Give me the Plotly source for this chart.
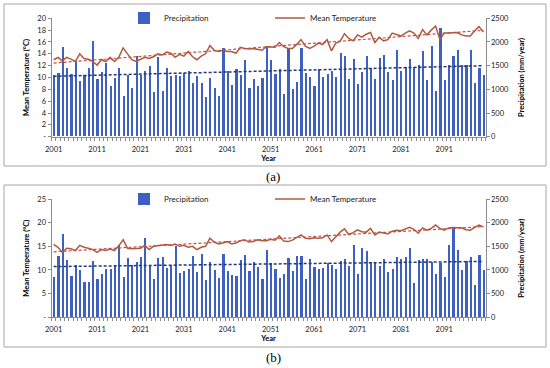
import numpy as np
import plotly.graph_objects as go

years = list(range(2001, 2101))

precip_a = [1288, 1337, 1884, 1442, 1323, 1600, 1165, 1290, 1450, 2024,
            1215, 1360, 1548, 1060, 1235, 1445, 854, 1290, 1029, 1697,
            1300, 1390, 1495, 938, 1670, 955, 1448, 1265, 1300, 1270,
            1340, 1375, 1130, 1274, 1134, 840, 1240, 1029, 852, 1875,
            1373, 1090, 1427, 1288, 1608, 1029, 1220, 1065, 1225, 1880,
            1617, 1323, 1425, 902, 1864, 1004, 1145, 1868, 1337, 1264,
            1060, 1425, 1264, 1323, 1372, 1260, 1770, 1700, 1218, 1641,
            1113, 1352, 1704, 1444, 1218, 1655, 1725, 1352, 1183, 1817,
            1373, 1465, 1634, 1465, 1500, 1796, 1197, 1915, 951, 2289,
            1197, 1514, 1704, 1831, 1514, 1514, 1817, 1127, 1444, 1303]

temp_a = [13.0, 13.4, 12.8, 13.4, 13.1, 12.7, 14.0, 13.2, 13.1, 12.7,
          12.1, 13.0, 12.7, 13.4, 12.7, 13.4, 15.0, 14.0, 13.0, 12.7,
          13.0, 13.4, 13.2, 13.5, 14.0, 13.8, 14.3, 14.1, 13.4, 13.9,
          13.6, 14.4, 13.5, 13.0, 13.6, 14.0, 15.4, 14.6, 14.4, 14.6,
          14.4, 14.4, 14.1, 15.1, 14.9, 14.8, 14.9, 14.8, 14.6, 15.2,
          15.2, 15.1, 15.9, 15.2, 14.9, 14.9, 15.6, 16.4, 15.3, 14.9,
          15.3, 15.8, 15.6, 16.4, 14.5, 15.8, 16.1, 17.4, 16.6, 16.2,
          17.2, 16.8, 17.3, 17.6, 15.9, 16.8, 16.2, 16.4, 17.5, 17.2,
          17.0, 17.5, 17.9, 17.5, 16.6, 18.1, 17.2, 18.0, 18.7, 16.4,
          17.5, 17.5, 17.5, 17.6, 17.2, 17.0, 17.0, 17.9, 18.6, 17.7]

precip_b = [845, 1300, 1750, 1212, 875, 1105, 1003, 750, 750, 1185,
            805, 920, 1018, 1018, 1105, 1530, 845, 1255, 1105, 1160,
            1278, 1680, 1115, 810, 1250, 1268, 1035, 1112, 1505, 940,
            977, 1030, 1294, 960, 1340, 786, 1178, 1008, 836, 1333,
            988, 896, 878, 1210, 1312, 988, 1170, 1058, 811, 1414,
            1153, 1012, 838, 915, 1248, 985, 1300, 1305, 811, 1234,
            1065, 1014, 1049, 1141, 1106, 1014, 1185, 1238, 1090, 1530,
            910, 1474, 1396, 1160, 1160, 1087, 1227, 956, 1019, 1273,
            1230, 1284, 1460, 716, 1210, 1238, 1230, 1167, 913, 1146,
            857, 1530, 1883, 1421, 998, 1188, 1284, 684, 1315, 998]

temp_b = [15.4, 14.8, 13.7, 14.6, 14.5, 14.1, 15.2, 14.8, 14.6, 14.3,
          13.7, 14.3, 14.1, 14.4, 14.1, 15.1, 16.4, 14.6, 14.5, 14.6,
          14.6, 15.2, 14.3, 15.0, 15.1, 15.2, 15.4, 15.2, 15.5, 15.0,
          15.2, 14.8, 15.0, 14.3, 14.8, 15.0, 16.7, 15.9, 15.5, 15.7,
          16.0, 15.5, 15.7, 16.2, 16.4, 15.9, 16.0, 16.4, 16.2, 16.2,
          16.5, 16.3, 17.2, 16.1, 16.0, 16.3, 16.9, 17.4, 16.7, 16.6,
          16.8, 16.7, 16.8, 17.4, 16.0, 17.1, 18.0, 18.7, 17.5, 17.9,
          18.5, 18.1, 18.0, 18.8, 17.4, 18.0, 17.8, 17.6, 18.2, 18.4,
          18.3, 18.6, 19.0, 18.6, 17.8, 18.9, 18.4, 18.8, 19.5, 18.8,
          18.4, 18.9, 19.0, 18.9, 18.9, 18.5, 18.4, 19.0, 19.5, 19.1]

x_ticks = [2001, 2011, 2021, 2031, 2041, 2051, 2061, 2071, 2081, 2091]
temp_ticks_a = [0, 2, 4, 6, 8, 10, 12, 14, 16, 18, 20]
temp_ticks_b = [0, 5, 10, 15, 20, 25]
precip_ticks = [0, 500, 1000, 1500, 2000, 2500]

W, H = 550, 368
FONT = "Lato, 'Liberation Sans', sans-serif"
BAR_C = "#3D60C2"
TEMP_C = "#B05A3C"
TTREND_C = "#C0504D"
PTREND_C = "#1F3A78"
AX_C = "#8C8C8C"


def px_x(v):
    return v / W


def px_y(v):
    return 1 - v / H


def trend(xs, ys):
    k, b = np.polyfit(np.array(xs, float), np.array(ys, float), 1)
    return [k * x + b for x in xs]


fig = go.Figure()

panels = [
    (precip_a, temp_a, "y", "y2", "x", "legend", "legend2"),
    (precip_b, temp_b, "y3", "y4", "x2", "legend3", "legend4"),
]

for pr, tp, yb, yt, xa, lg1, lg2 in panels:
    fig.add_trace(go.Bar(x=years, y=pr, xaxis=xa, yaxis=yb, name="Precipitation",
                         marker=dict(color=BAR_C, line=dict(width=0)), width=0.5,
                         legend=lg1))
    fig.add_trace(go.Scatter(x=years, y=trend(years, pr), xaxis=xa, yaxis=yb, mode="lines",
                             line=dict(color=PTREND_C, width=1.5, dash="3px,2px"),
                             showlegend=False, hoverinfo="skip"))
    fig.add_trace(go.Scatter(x=years, y=tp, xaxis=xa, yaxis=yt, mode="lines",
                             name="Mean Temperature",
                             line=dict(color=TEMP_C, width=1.5), legend=lg2))
    fig.add_trace(go.Scatter(x=years, y=trend(years, tp), xaxis=xa, yaxis=yt, mode="lines",
                             line=dict(color=TTREND_C, width=1.2, dash="3px,2px"),
                             showlegend=False, hoverinfo="skip"))

xdom = [px_x(51.5), px_x(485.5)]
ydom_a = [px_y(136.7), px_y(18.3)]
ydom_b = [px_y(317.3), px_y(199.0)]

tickfont = dict(family=FONT, size=7.5, color="#222222")
titlefont = dict(family=FONT, size=7.5, color="#000000")


def xaxis_cfg(anchor):
    return dict(domain=xdom, anchor=anchor, range=[2000.5, 2100.5],
                tickvals=x_ticks, ticktext=[str(v) for v in x_ticks],
                ticks="", ticklabelstandoff=5,
                minor=dict(ticks="outside", ticklen=3, dtick=1, tick0=2000.5,
                           tickcolor=AX_C, showgrid=False),
                showline=True, linecolor=AX_C, linewidth=1, automargin=False,
                showgrid=False, zeroline=False, tickfont=tickfont,
                title=dict(text="<b>Year</b>", font=titlefont, standoff=2))


def bar_axis_cfg(dom, anchor):
    return dict(domain=dom, anchor=anchor, side="right", range=[0, 2500],
                tickvals=precip_ticks, ticktext=[str(v) for v in precip_ticks],
                ticks="outside", ticklen=3, tickcolor=AX_C, automargin=False,
                showline=True, linecolor=AX_C, linewidth=1,
                showgrid=False, zeroline=False, tickfont=tickfont,
                title=dict(text="<b>Precipitation (mm/year)</b>", font=titlefont, standoff=10))


def temp_axis_cfg(overlay, anchor, ticks_list, rng):
    return dict(overlaying=overlay, anchor=anchor, side="left", range=rng,
                tickvals=ticks_list,
                ticktext=["-" if v == 0 else str(v) for v in ticks_list],
                ticks="outside", ticklen=3, tickcolor=AX_C, automargin=False,
                showline=True, linecolor=AX_C, linewidth=1,
                showgrid=False, zeroline=False, tickfont=tickfont,
                title=dict(text="<b>Mean Temperature (°C)</b>", font=titlefont, standoff=6))


def legend_cfg(xpx, ypx):
    return dict(x=px_x(xpx), y=px_y(ypx), xanchor="left", yanchor="middle",
                orientation="h", bgcolor="rgba(0,0,0,0)", itemwidth=30,
                font=dict(family=FONT, size=8, color="#222222"))


fig.update_layout(
    width=W, height=H,
    margin=dict(l=0, r=0, t=0, b=0, autoexpand=False),
    paper_bgcolor="white", plot_bgcolor="white",
    bargap=0,
    xaxis=xaxis_cfg("y"),
    xaxis2=xaxis_cfg("y3"),
    yaxis=bar_axis_cfg(ydom_a, "x"),
    yaxis2=temp_axis_cfg("y", "x", temp_ticks_a, [0, 20]),
    yaxis3=bar_axis_cfg(ydom_b, "x2"),
    yaxis4=temp_axis_cfg("y3", "x2", temp_ticks_b, [0, 25]),
    legend=legend_cfg(124, 18),
    legend2=legend_cfg(270, 18),
    legend3=legend_cfg(124, 199),
    legend4=legend_cfg(270, 199),
    shapes=[
        dict(type="rect", xref="paper", yref="paper",
             x0=px_x(4), x1=px_x(546), y0=px_y(166), y1=px_y(4),
             line=dict(color="#A6A6A6", width=1), layer="below"),
        dict(type="rect", xref="paper", yref="paper",
             x0=px_x(4), x1=px_x(546), y0=px_y(347), y1=px_y(185),
             line=dict(color="#A6A6A6", width=1), layer="below"),
    ],
    annotations=[
        dict(text="(a)", x=px_x(273), y=px_y(176), xref="paper", yref="paper",
             xanchor="center", yanchor="middle", showarrow=False,
             font=dict(family="'Liberation Serif', serif", size=13, color="#000")),
        dict(text="(b)", x=px_x(273), y=px_y(357), xref="paper", yref="paper",
             xanchor="center", yanchor="middle", showarrow=False,
             font=dict(family="'Liberation Serif', serif", size=13, color="#000")),
    ],
)

fig.write_html("out.html", config={"displayModeBar": False},
               post_script="document.body.style.margin='0';document.body.style.overflow='hidden';")
